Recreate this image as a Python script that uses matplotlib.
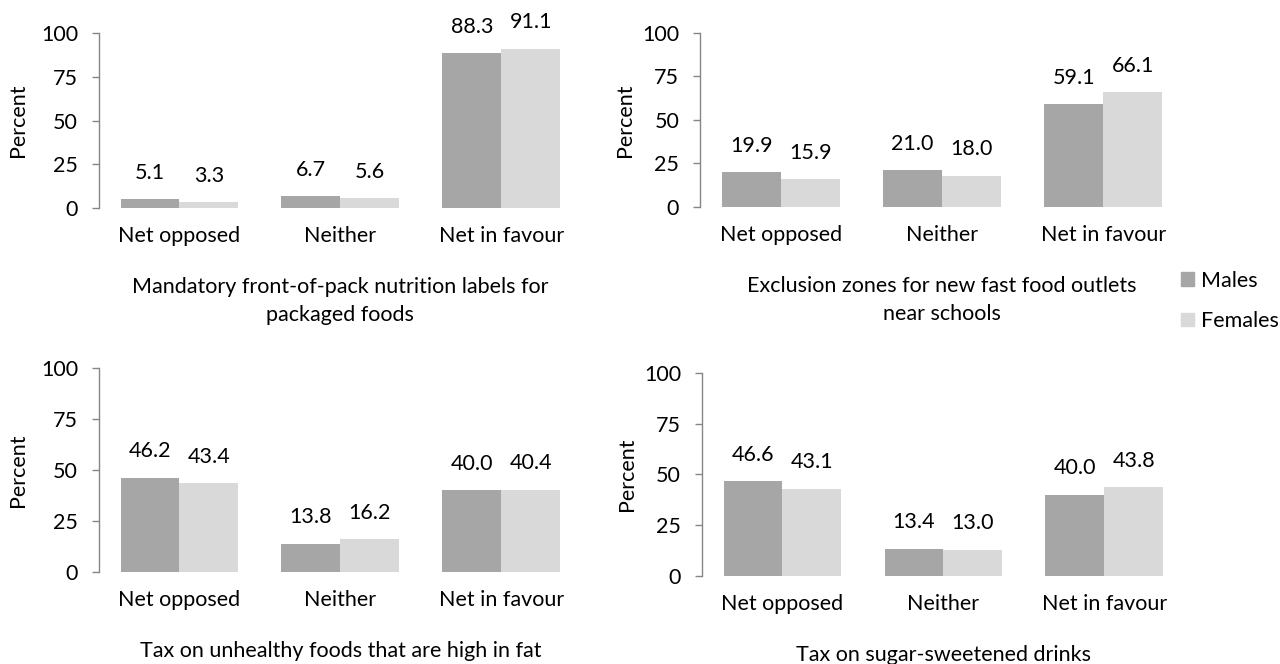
import matplotlib
matplotlib.use("Agg")
import matplotlib.pyplot as plt
from matplotlib.patches import Patch

plt.rcParams['font.family'] = ['Lato', 'DejaVu Sans']
plt.rcParams['font.size'] = 15.5

# survey responses by sex, percent
categories = ['Net opposed', 'Neither', 'Net in favour']
titles = [
    'Mandatory front-of-pack nutrition labels for\npackaged foods',
    'Exclusion zones for new fast food outlets\nnear schools',
    'Tax on unhealthy foods that are high in fat',
    'Tax on sugar-sweetened drinks',
]
males = [
    [5.1, 6.7, 88.3],
    [19.9, 21.0, 59.1],
    [46.2, 13.8, 40.0],
    [46.6, 13.4, 40.0],
]
females = [
    [3.3, 5.6, 91.1],
    [15.9, 18.0, 66.1],
    [43.4, 16.2, 40.4],
    [43.1, 13.0, 43.8],
]

male_col = '#a6a6a6'
female_col = '#d9d9d9'
axis_col = '#868686'

# axes boxes in figure fractions: left, bottom, width, height
boxes = [
    (0.0773, 0.6867, 0.3773, 0.2636),
    (0.5469, 0.6883, 0.3780, 0.2620),
    (0.0773, 0.1386, 0.3773, 0.3072),
    (0.5484, 0.1325, 0.3773, 0.3058),
]
ylabel_pads = [9, 5, 9, 5]

fig = plt.figure(figsize=(12.8, 6.64), dpi=100)
w = 0.366
x = list(range(len(categories)))

for i, box in enumerate(boxes):
    ax = fig.add_axes(box)
    ax.bar([v - w / 2 for v in x], males[i], width=w, color=male_col, linewidth=0)
    ax.bar([v + w / 2 for v in x], females[i], width=w, color=female_col, linewidth=0)
    for v, m, f in zip(x, males[i], females[i]):
        ax.annotate(f'{m:.1f}', (v - w / 2, m), xytext=(0, 19), textcoords='offset points',
                    ha='center', va='center')
        ax.annotate(f'{f:.1f}', (v + w / 2, f), xytext=(0, 19), textcoords='offset points',
                    ha='center', va='center')
    ax.set_xlim(-0.5, 2.5)
    ax.set_ylim(0, 100)
    ax.set_yticks([0, 25, 50, 75, 100])
    ax.set_xticks(x)
    ax.set_xticklabels(categories)
    for s in ['top', 'right', 'bottom']:
        ax.spines[s].set_visible(False)
    ax.spines['left'].set_color(axis_col)
    ax.spines['left'].set_linewidth(1.0)
    ax.tick_params(axis='y', color=axis_col, length=5, width=1.0, pad=10)
    ax.tick_params(axis='x', length=0, pad=13)
    ax.set_ylabel('Percent', labelpad=ylabel_pads[i])
    ax.annotate(titles[i], (0.5, 0), xycoords='axes fraction', xytext=(0, -50),
                textcoords='offset points', ha='center', va='top', linespacing=1.5)

handles = [Patch(color=male_col, label='Males'), Patch(color=female_col, label='Females')]
fig.legend(handles=handles, loc='upper left', bbox_to_anchor=(1172 / 1280, 1 - 262 / 664),
           frameon=False, handlelength=0.6, handleheight=0.6, handletextpad=0.35,
           labelspacing=0.95, borderaxespad=0)

fig.savefig('out.png', dpi=100)
